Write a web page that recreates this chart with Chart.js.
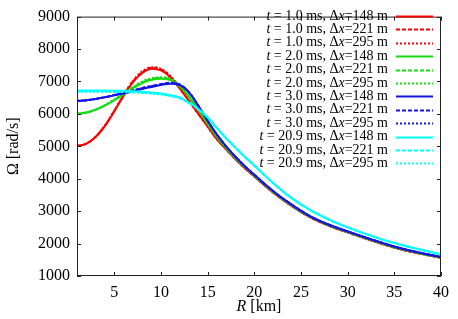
<!DOCTYPE html>
<html lang="en">
<head>
  <meta charset="UTF-8">
  <title>Angular velocity profile</title>
  <script src="https://cdn.jsdelivr.net/npm/chart.js"></script>
  <style>
    html, body { margin: 0; padding: 0; background: #fff; }
  </style>
</head>
<body>
  <canvas id="chart" width="458" height="319"></canvas>

  <script>
    // radius [km]
    const radii = [1, 2, 3, 4, 5, 6, 7, 8, 9, 10, 11, 12, 13, 14, 15, 16, 17, 18, 19, 20, 22, 24, 26, 28, 30, 32, 34, 36, 38, 40];

    // Omega [rad/s], one array per (time, resolution)
    const omegaT1dx148 = [5000, 5080, 5290, 5630, 6080, 6560, 6980, 7260, 7390, 7340, 7130, 6790, 6400, 6010, 5620, 5220, 4900, 4600, 4320, 4070, 3580, 3160, 2810, 2550, 2345, 2150, 1965, 1800, 1675, 1560];
    const omegaT1dx221 = [5000, 5080, 5290, 5640, 6090, 6580, 7010, 7290, 7420, 7370, 7150, 6800, 6400, 6000, 5610, 5215, 4900, 4600, 4320, 4070, 3580, 3160, 2810, 2550, 2345, 2150, 1965, 1800, 1675, 1560];
    const omegaT1dx295 = [5000, 5080, 5300, 5650, 6100, 6590, 7020, 7310, 7440, 7390, 7170, 6810, 6400, 6000, 5600, 5210, 4900, 4600, 4320, 4070, 3580, 3160, 2810, 2550, 2345, 2150, 1965, 1800, 1675, 1560];

    const omegaT2dx148 = [6000, 6040, 6130, 6260, 6420, 6600, 6790, 6950, 7050, 7080, 7040, 6850, 6530, 6130, 5700, 5290, 4940, 4630, 4350, 4095, 3600, 3180, 2825, 2565, 2360, 2165, 1980, 1815, 1688, 1575];
    const omegaT2dx221 = [6000, 6040, 6130, 6260, 6430, 6620, 6810, 6980, 7080, 7110, 7060, 6860, 6530, 6120, 5690, 5285, 4940, 4630, 4350, 4095, 3600, 3180, 2825, 2565, 2360, 2165, 1980, 1815, 1688, 1575];
    const omegaT2dx295 = [6000, 6040, 6130, 6270, 6440, 6630, 6830, 7000, 7100, 7130, 7080, 6870, 6530, 6120, 5690, 5285, 4940, 4630, 4350, 4095, 3600, 3180, 2825, 2565, 2360, 2165, 1980, 1815, 1688, 1575];

    const omegaT3dx148 = [6400, 6420, 6460, 6510, 6570, 6630, 6700, 6770, 6830, 6890, 6930, 6890, 6660, 6250, 5790, 5360, 4990, 4670, 4380, 4120, 3620, 3200, 2840, 2580, 2375, 2180, 1995, 1830, 1700, 1586];
    const omegaT3dx221 = [6400, 6420, 6460, 6510, 6580, 6650, 6720, 6800, 6860, 6920, 6960, 6910, 6670, 6250, 5780, 5355, 4990, 4670, 4380, 4120, 3620, 3200, 2840, 2580, 2375, 2180, 1995, 1830, 1700, 1586];
    const omegaT3dx295 = [6400, 6420, 6460, 6520, 6580, 6650, 6720, 6800, 6860, 6910, 6950, 6900, 6670, 6250, 5780, 5355, 4990, 4670, 4380, 4120, 3620, 3200, 2840, 2580, 2375, 2180, 1995, 1830, 1700, 1586];

    const omegaT21dx148 = [6720, 6720, 6720, 6720, 6715, 6710, 6700, 6680, 6660, 6630, 6580, 6510, 6350, 6150, 5890, 5560, 5240, 4950, 4670, 4410, 3870, 3400, 3030, 2740, 2500, 2290, 2100, 1940, 1800, 1667];
    const omegaT21dx221 = [6700, 6700, 6700, 6700, 6695, 6690, 6680, 6660, 6640, 6610, 6560, 6490, 6340, 6140, 5885, 5560, 5240, 4950, 4670, 4410, 3870, 3400, 3030, 2740, 2500, 2290, 2100, 1940, 1800, 1667];
    const omegaT21dx295 = [6680, 6680, 6680, 6680, 6675, 6670, 6660, 6645, 6625, 6595, 6550, 6480, 6330, 6140, 5885, 5560, 5240, 4950, 4670, 4410, 3870, 3400, 3030, 2740, 2500, 2290, 2100, 1940, 1800, 1667];

    const times = ['1.0', '2.0', '3.0', '20.9'];
    const spacings = ['148', '221', '295'];
    const xTicks = [5, 10, 15, 20, 25, 30, 35, 40];
    const yTicks = [1000, 2000, 3000, 4000, 5000, 6000, 7000, 8000, 9000];

    const series = [
      [omegaT1dx148, omegaT1dx221, omegaT1dx295],
      [omegaT2dx148, omegaT2dx221, omegaT2dx295],
      [omegaT3dx148, omegaT3dx221, omegaT3dx295],
      [omegaT21dx148, omegaT21dx221, omegaT21dx295]
    ];
    const colors = ['#ff0000', '#11dd11', '#1414e6', '#00ffff'];
    const dashes = [[], [4, 2], [2, 2]];

    const serif = '"Liberation Serif", "DejaVu Serif", serif';

    const datasets = [];
    series.forEach((group, i) => {
      group.forEach((vals, j) => {
        datasets.push({
          label: 't = ' + times[i] + ' ms, \u0394x=' + spacings[j] + ' m',
          time: times[i],
          spacing: spacings[j],
          data: radii.map((r, k) => ({ x: r, y: vals[k] })),
          borderColor: colors[i],
          borderWidth: 2,
          borderDash: dashes[j],
          pointRadius: 0,
          cubicInterpolationMode: 'monotone',
          fill: false,
          order: 12 - datasets.length
        });
      });
    });

    // draw text made of italic / upright pieces, right aligned at xRight
    function drawRuns(ctx, runs, xRight, y, size) {
      let total = 0;
      runs.forEach(r => {
        ctx.font = (r.it ? 'italic ' : '') + size + 'px ' + serif;
        r.w = ctx.measureText(r.s).width;
        total += r.w;
      });
      let x = xRight - total;
      runs.forEach(r => {
        ctx.font = (r.it ? 'italic ' : '') + size + 'px ' + serif;
        ctx.fillText(r.s, x, y);
        x += r.w;
      });
      return total;
    }

    const framePlugin = {
      id: 'frame',
      afterDraw(chart) {
        const ctx = chart.ctx;
        const a = chart.chartArea;
        const xs = chart.scales.x, ys = chart.scales.y;
        ctx.save();
        ctx.strokeStyle = '#222';
        ctx.lineWidth = 1;
        ctx.setLineDash([]);
        ctx.strokeRect(a.left + 0.5, a.top + 0.5, a.right - a.left - 1, a.bottom - a.top - 1);
        const tl = 4;
        ctx.beginPath();
        xTicks.forEach(v => {
          const px = Math.round(xs.getPixelForValue(v)) + 0.5;
          ctx.moveTo(px, a.bottom); ctx.lineTo(px, a.bottom - tl);
          ctx.moveTo(px, a.top); ctx.lineTo(px, a.top + tl);
        });
        yTicks.forEach(v => {
          const py = Math.round(ys.getPixelForValue(v)) + 0.5;
          ctx.moveTo(a.left, py); ctx.lineTo(a.left + tl, py);
          ctx.moveTo(a.right, py); ctx.lineTo(a.right - tl, py);
        });
        ctx.stroke();

        // legend
        ctx.fillStyle = '#000';
        ctx.textBaseline = 'middle';
        chart.data.datasets.forEach((ds, i) => {
          const y = 16 + i * 13.4;
          drawRuns(ctx, [
            { s: 't', it: true },
            { s: ' = ' + ds.time + ' ms, \u0394' },
            { s: 'x', it: true },
            { s: '=' + ds.spacing + ' m' }
          ], 388, y, 14);
          ctx.strokeStyle = ds.borderColor;
          ctx.lineWidth = 2;
          ctx.setLineDash(ds.borderDash);
          ctx.beginPath();
          ctx.moveTo(396, Math.round(y) + 0.5);
          ctx.lineTo(433, Math.round(y) + 0.5);
          ctx.stroke();
        });
        ctx.setLineDash([]);

        // axis titles
        ctx.fillStyle = '#000';
        ctx.textBaseline = 'middle';
        const cx = (a.left + a.right) / 2;
        ctx.font = 'italic 16px ' + serif;
        const wR = ctx.measureText('R').width;
        ctx.font = '16px ' + serif;
        const wKm = ctx.measureText(' [km]').width;
        drawRuns(ctx, [{ s: 'R', it: true }, { s: ' [km]' }], cx + (wR + wKm) / 2, 307, 16);

        ctx.translate(14, (a.top + a.bottom) / 2);
        ctx.rotate(-Math.PI / 2);
        ctx.font = '16px ' + serif;
        ctx.textAlign = 'center';
        ctx.fillText('\u03A9 [rad/s]', 0, 0);
        ctx.restore();
      }
    };

    new Chart(document.getElementById('chart'), {
      type: 'line',
      data: { datasets: datasets },
      options: {
        responsive: false,
        animation: false,
        layout: { padding: { top: 7, right: 17, left: 0, bottom: 0 } },
        plugins: { legend: { display: false }, tooltip: { enabled: false } },
        scales: {
          x: {
            type: 'linear',
            min: 1,
            max: 40,
            grid: { display: false, drawTicks: false },
            border: { display: false },
            afterBuildTicks: s => { s.ticks = xTicks.map(v => ({ value: v })); },
            afterFit: s => { s.height = 43; },
            ticks: { color: '#000', padding: 7, maxRotation: 0, font: { family: serif, size: 16 } }
          },
          y: {
            min: 1000,
            max: 9000,
            grid: { display: false, drawTicks: false },
            border: { display: false },
            afterBuildTicks: s => { s.ticks = yTicks.map(v => ({ value: v })); },
            afterFit: s => { s.width = 77; },
            ticks: { color: '#000', padding: 7, font: { family: serif, size: 16 }, callback: v => String(v) }
          }
        }
      },
      plugins: [framePlugin]
    });
  </script>
</body>
</html>
